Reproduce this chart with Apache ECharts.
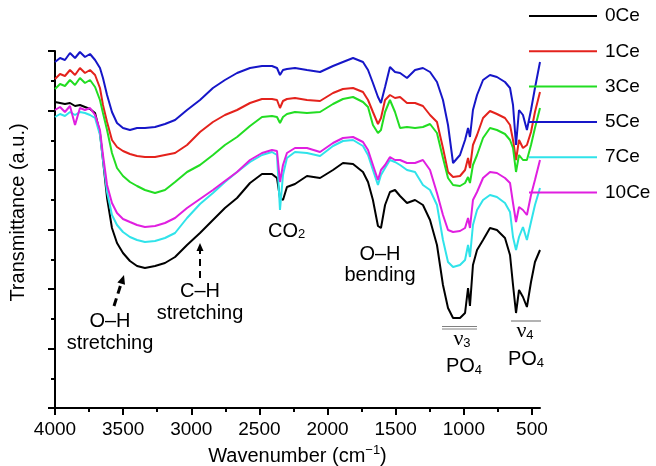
<!DOCTYPE html>
<html>
<head>
<meta charset="utf-8">
<script src="https://cdn.jsdelivr.net/npm/echarts@6/dist/echarts.min.js"></script>
<style>html,body{margin:0;padding:0;background:#fff;}#c{width:656px;height:466px;}</style>
</head>
<body>
<div id="c"></div>
<script>
// Wavenumber (cm^-1) sample positions
const wavenumber = [4000,3963,3927,3890,3853,3817,3780,3743,3706,3670,
  3648,3618,3582,3545,3501,3450,3398,3340,3266,3193,
  3119,3031,2936,2841,2753,2664,2569,2481,2408,2371,
  2349,2327,2298,2239,2151,2055,1960,1887,1813,1740,
  1703,1667,1630,1608,1578,1542,1505,1468,1417,1358,
  1300,1248,1197,1153,1116,1079,1028,991,969,955,
  933,903,859,808,757,698,661,639,617,595,
  566,537,507,478,441];

// Transmittance (a.u.), stacked offsets as drawn
const ce0 = [306,305,304,305,302,303,301,299,295,275,
  248,210,180,165,155,147,142,140,142,145,
  151,163,175,188,200,210,225,234,234,230,
  210,208,221,224,232,230,238,245,244,236,
  226,208,182,180,203,216,218,212,205,208,
  203,188,163,123,100,90,90,95,120,102,
  143,158,168,180,178,170,153,123,95,118,
  111,101,126,146,158];
const ce1 = [329,334,332,338,333,340,335,338,333,320,
  303,286,268,261,257,254,252,251,251,253,
  255,263,276,286,293,298,305,309,309,308,
  300,307,309,310,308,307,315,319,320,316,
  308,296,284,290,308,313,310,311,305,305,
  302,293,286,260,236,231,232,238,250,240,
  263,273,290,297,294,290,283,268,248,268,
  260,263,276,296,316];
const ce3 = [319,324,322,328,323,330,325,328,321,308,
  295,278,255,240,232,226,222,218,215,218,
  226,236,243,253,263,271,282,291,292,291,
  285,291,294,296,295,296,304,309,311,306,
  301,283,275,278,296,308,296,280,281,280,
  281,284,275,250,230,223,222,225,231,225,
  243,253,270,280,278,274,268,260,236,253,
  248,248,263,280,300];
const ce5 = [346,350,348,355,350,356,351,354,348,340,
  330,313,296,285,280,278,280,280,281,284,
  288,298,308,320,328,335,340,342,342,340,
  333,338,339,340,338,336,342,346,350,346,
  338,325,311,305,321,341,336,335,330,338,
  340,336,326,308,283,245,253,268,280,271,
  298,313,328,333,331,326,320,303,263,298,
  293,278,298,320,346];
const ce7 = [291,294,292,296,293,296,295,293,290,273,
  248,216,193,183,176,171,168,166,167,170,
  175,190,204,215,226,236,246,253,256,253,
  198,233,250,256,255,252,262,267,268,262,
  253,238,223,233,240,248,246,243,238,236,
  223,218,203,168,146,141,143,148,163,151,
  183,198,208,213,211,205,196,171,158,171,
  181,168,186,203,220];
const ce10 = [298,301,296,302,283,300,298,300,293,278,
  253,223,205,195,189,186,183,181,182,185,
  190,200,209,218,227,236,248,255,258,257,
  226,243,255,260,260,256,265,270,271,266,
  258,243,228,238,243,251,248,248,245,245,
  248,238,215,193,178,176,177,180,190,180,
  208,216,230,236,235,230,225,205,186,201,
  198,193,213,228,248];

const seriesNames = ['0Ce','1Ce','3Ce','5Ce','7Ce','10Ce'];
const seriesValues = [ce0, ce1, ce3, ce5, ce7, ce10];
const seriesColors = ['#000000','#e4221c','#22dd22','#1616c8','#30e3ea','#e01fe0'];
const xMajorTicks = [4000,3500,3000,2500,2000,1500,1000,500];
const xMinorTicks = [3750,3250,2750,2250,1750,1250,750];

const FONT = 'Liberation Sans, Arial, Helvetica, sans-serif';
const SERIF = 'Liberation Serif, Times New Roman, serif';
const chart = echarts.init(document.getElementById('c'), null, {renderer:'canvas'});

const series = seriesNames.map((n, i) => ({
  name: n,
  type: 'line',
  xAxisIndex: 0,
  symbol: 'none',
  showSymbol: false,
  smooth: false,
  lineStyle: {width: 2, color: seriesColors[i]},
  itemStyle: {color: seriesColors[i]},
  data: wavenumber.map((w, k) => [w, seriesValues[i][k]])
}));

const txt = (x, y, text, extra) => ({
  type: 'text', x: x, y: y,
  style: Object.assign({
    text: text, font: '20px ' + FONT, fill: '#000',
    align: 'center', verticalAlign: 'middle',
    rich: {
      s: {fontSize: 13, fontFamily: FONT, verticalAlign: 'bottom', lineHeight: 13, fill: '#000'},
      nu: {fontSize: 22, fontFamily: SERIF, fill: '#000'}
    }
  }, extra || {})
});

chart.setOption({
  animation: false,
  backgroundColor: '#fff',
  grid: {left: 55, right: 116, top: 51, bottom: 58, containLabel: false, outerBoundsMode: 'none'},
  legend: {
    data: seriesNames.map(n => ({name: n, icon: 'rect'})),
    orient: 'vertical',
    left: 529, top: 6,
    padding: 0,
    itemWidth: 68, itemHeight: 2, itemGap: 15.3,
    textStyle: {fontSize: 19, fontFamily: FONT, color: '#000', lineHeight: 20, padding: [0,0,0,3]}
  },
  xAxis: [{
    type: 'value', inverse: true, min: 441, max: 4000,
    name: 'Wavenumber (cm{sup|−1})',
    nameLocation: 'middle', nameGap: 36,
    nameTextStyle: {fontSize: 20, fontFamily: FONT, color: '#000', lineHeight: 24,
      rich: {sup: {fontSize: 13, fontFamily: FONT, verticalAlign: 'top', lineHeight: 13, color: '#000'}}},
    axisLine: {show: true, lineStyle: {color: '#000', width: 2}},
    axisTick: {show: true, inside: false, length: 7, lineStyle: {color: '#000', width: 2}, customValues: xMajorTicks},
    axisLabel: {show: true, margin: 12, fontSize: 19, fontFamily: FONT, color: '#000', customValues: xMajorTicks,
      formatter: v => String(Math.round(v))},
    splitLine: {show: false}
  }, {
    type: 'value', inverse: true, min: 441, max: 4000, position: 'bottom', gridIndex: 0,
    axisLine: {show: false},
    axisTick: {show: true, inside: false, length: 4, lineStyle: {color: '#000', width: 2}, customValues: xMinorTicks},
    axisLabel: {show: false},
    splitLine: {show: false}
  }],
  yAxis: {
    type: 'value', min: 0, max: 357, interval: 59.5,
    name: 'Transmittance (a.u.)', nameLocation: 'middle', nameGap: 27,
    nameTextStyle: {fontSize: 20, fontFamily: FONT, color: '#000', padding: [0,0,0,34]},
    axisLine: {show: true, lineStyle: {color: '#000', width: 2}},
    axisTick: {show: true, inside: false, length: 7, lineStyle: {color: '#000', width: 2}},
    minorTick: {show: true, splitNumber: 2, length: 4, lineStyle: {color: '#000', width: 2}},
    axisLabel: {show: false},
    splitLine: {show: false}
  },
  series: series,
  graphic: [
    txt(268, 231, 'CO{s|2}', {align: 'left'}),
    txt(380, 265, 'O–H\nbending', {lineHeight: 21}),
    txt(110, 332, 'O–H\nstretching', {lineHeight: 22}),
    txt(200, 302, 'C–H\nstretching', {lineHeight: 22}),
    txt(462, 339, '{nu|ν}{s|3}', {lineHeight: 22}),
    txt(464, 366, 'PO{s|4}', {lineHeight: 22}),
    txt(525, 331, '{nu|ν}{s|4}', {lineHeight: 22}),
    txt(526, 359, 'PO{s|4}', {lineHeight: 22}),
    {type: 'line', shape: {x1: 442, y1: 326.5, x2: 477, y2: 326.5}, style: {stroke: '#808080', lineWidth: 1}},
    {type: 'line', shape: {x1: 442, y1: 329, x2: 477, y2: 329}, style: {stroke: '#808080', lineWidth: 1}},
    {type: 'line', shape: {x1: 511, y1: 321, x2: 541, y2: 321}, style: {stroke: '#808080', lineWidth: 1.2}},
    {type: 'line', shape: {x1: 114, y1: 306, x2: 121, y2: 284}, style: {stroke: '#000', lineWidth: 3, lineDash: [8,5]}},
    {type: 'polygon', shape: {points: [[124,275],[117.4,282.4],[125,284.8]]}, style: {fill: '#000'}},
    {type: 'line', shape: {x1: 200, y1: 278, x2: 200, y2: 251}, style: {stroke: '#000', lineWidth: 2, lineDash: [7,5]}},
    {type: 'polygon', shape: {points: [[200,243],[196.5,251],[203.5,251]]}, style: {fill: '#000'}}
  ]
});
</script>
</body>
</html>
